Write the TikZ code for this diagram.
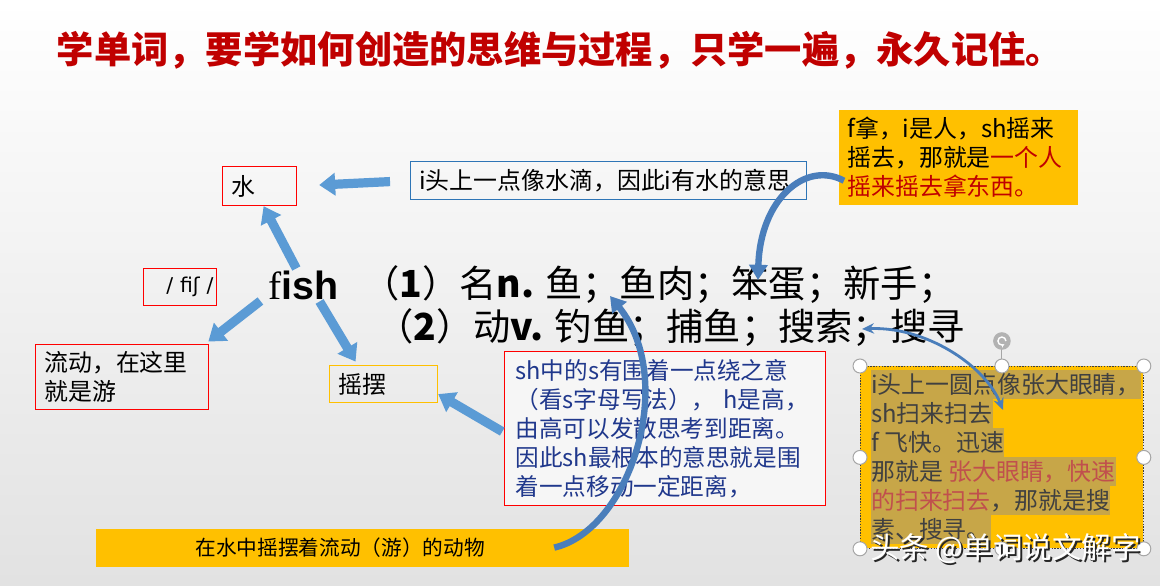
\documentclass[tikz,border=0pt]{standalone}
\usepackage{fontspec}
\setmainfont{Noto Sans CJK SC}
\newfontfamily\serifword{Liberation Serif}
\newfontfamily\sansword{Liberation Sans}
\newfontfamily\ipaface{DejaVu Sans}
\usepackage{xcolor}
\usetikzlibrary{arrows.meta}
\usetikzlibrary{positioning}

\definecolor{titlered}{RGB}{192,0,0}
\definecolor{boxred}{RGB}{255,0,0}
\definecolor{boxblue}{RGB}{46,117,182}
\definecolor{gold}{RGB}{255,192,0}
\definecolor{arrowblue}{RGB}{91,155,213}
\definecolor{curveblue}{RGB}{74,126,187}
\definecolor{inkblue}{RGB}{32,56,140}
\definecolor{hlbrown}{RGB}{199,166,72}
\definecolor{darkgray}{RGB}{64,64,64}
\definecolor{softred}{RGB}{192,80,77}
\definecolor{bgbottom}{RGB}{226,226,226}

\newcommand{\headfont}{\fontsize{26.5}{32}\selectfont\bfseries}
\newcommand{\notefont}{\fontsize{17}{20.6}\selectfont}
\newcommand{\shfont}{\fontsize{16.8}{20.6}\selectfont}
\newcommand{\sensefont}{\fontsize{26.5}{32}\selectfont}
\newcommand{\animalfont}{\fontsize{14.7}{18}\selectfont}
\newcommand{\markfont}{\fontsize{21}{24}\selectfont}

\begin{document}
\begin{tikzpicture}[x=0.25mm,y=-0.25mm,
  tagbox/.style={anchor=north west,inner xsep=2.2mm,inner ysep=0pt,align=left,line width=0.3mm},
  blockarrow/.style={arrowblue,line width=2.3mm,-{Triangle[width=5.5mm,length=4mm]}},
  curvearrow/.style={curveblue,line width=1.6mm,-{Triangle[width=4.5mm,length=3.8mm]}},
  thinarrow/.style={curveblue,line width=0.7mm,{Stealth[width=2.6mm,length=3mm]}-{Stealth[width=2.6mm,length=3mm]}},
  handle/.style={fill=white,draw=gray!70,line width=0.25mm},
  hlline/.style={anchor=north west,fill=hlbrown,inner sep=0pt,minimum height=7.1mm,text=darkgray,font=\notefont}]
  \useasboundingbox (0,0) rectangle (1160,585);
  \fill[top color=white,bottom color=bgbottom] (0,0) rectangle (1160,585);

  % title
  \node[anchor=west,text=titlered,font=\headfont] (title) at (52,50) {学单词，要学如何创造的思维与过程，只学一遍，永久记住。};

  % boxes round the word
  \node[tagbox,draw=boxred,text width=14.1mm,minimum height=9.75mm,font=\notefont] (water) at (222,166) {水};
  \node[tagbox,draw=boxblue,text width=94.6mm,minimum height=9.5mm,font=\notefont] (drop) at (410,161) {i头上一点像水滴，因此i有水的意思};
  \node[tagbox,fill=gold,text width=55.35mm,minimum height=23.75mm,font=\notefont] (grab) at (838,109)
    {f拿，i是人，sh摇来\\摇去，那就是\textcolor{titlered}{一个人}\\\textcolor{titlered}{摇来摇去拿东西。}};
  \node[tagbox,draw=boxred,inner xsep=0.8mm,text width=16.65mm,minimum height=9.25mm,align=right,font=\ipaface\fontsize{14.5}{16}\selectfont] (ipa) at (143,268) {/ fiʃ /};
  \node[tagbox,draw=boxred,text width=38.85mm,minimum height=16.25mm,font=\notefont] (flow) at (35,344) {流动，在这里\\就是游};
  \node[tagbox,draw=gold,text width=22.6mm,minimum height=9.25mm,font=\notefont] (sway) at (329,365) {摇摆};
  \node[tagbox,draw=boxred,fill=white!70!bgbottom,inner xsep=2.75mm,text width=74.75mm,minimum height=38.5mm,text=inkblue,font=\shfont] (shbox) at (504,351)
    {sh中的s有围着一点绕之意\\（看s字母写法）， h是高，\\由高可以发散思考到距离。\\因此sh最根本的意思就是围\\着一点移动一定距离，};
  \node[tagbox,fill=gold,inner xsep=0pt,text width=133.25mm,minimum height=9.5mm,font=\animalfont] (animal) at (95,528)
    {\hspace*{25mm}在水中摇摆着流动（游）的动物};

  % the word and its senses
  \node[anchor=west,inner sep=0pt] (fish) at (268,285) {\fontsize{28}{34}\selectfont{\serifword f}{\sansword\bfseries ish}};
  \node[anchor=west,inner sep=0pt,font=\sensefont] (sense1) at (362,285) {（\textbf{1}）名\textbf{n.} 鱼；鱼肉；笨蛋；新手；};
  \node[anchor=west,inner sep=0pt,font=\sensefont] (sense2) at (376,328) {（\textbf{2}）动\textbf{v.} 钓鱼；捕鱼；搜索；搜寻};
  \coordinate (dunce) at (758,280);
  \coordinate (yu) at (610,296);
  \coordinate (seek) at (862,329);

  % right box, selected
  \node[anchor=north west,fill=gold,draw=darkgray,dash pattern=on 1pt off 1pt,line width=0.2mm,minimum width=70.75mm,minimum height=45.5mm,inner sep=0pt] (search) at (860,366) {};
  \node[hlline] (l1) at ([xshift=2.75mm,yshift=-1mm]search.north west) {i头上一圆点像张大眼睛，};
  \node[hlline,below=0pt of l1.south west,anchor=north west] (l2) {sh扫来扫去};
  \node[hlline,below=0pt of l2.south west,anchor=north west] (l3) {f 飞快。迅速};
  \node[hlline,below=0pt of l3.south west,anchor=north west] (l4) {那就是 \textcolor{softred}{张大眼睛，快速}};
  \node[hlline,below=0pt of l4.south west,anchor=north west] (l5) {\textcolor{softred}{的扫来扫去}，那就是搜};
  \node[hlline,below=0pt of l5.south west,anchor=north west] (l6) {素、搜寻。};
  \coordinate (eyes) at (1003,410);

  % straight arrows
  \draw[blockarrow,shorten <=5mm,shorten >=5.5mm] (drop.west) -- (water.east);
  \draw[blockarrow,shorten <=0.5mm] ([xshift=-1.5mm]fish.north) -- ([xshift=1mm]water.south);
  \draw[blockarrow,shorten <=0.5mm,shorten >=1mm] ([xshift=-1.5mm]fish.south west) -- ([xshift=-1mm]flow.north east);
  \draw[blockarrow,shorten <=0.5mm,shorten >=1mm] ([xshift=-5mm]fish.south east) -- ([xshift=-6.5mm]sway.north);
  \draw[blockarrow,shorten <=0.5mm] ([yshift=-1mm]shbox.west) -- ([yshift=-2.5mm]sway.east);

  % curved arrows
  \draw[curvearrow] ([xshift=1.5mm,yshift=-5.9mm]grab.west) .. controls (805,160) and (760,200) .. (dunce);
  \draw[curvearrow] ([xshift=-18.75mm]animal.east) .. controls (630,530) and (678,380) .. (yu);
  \draw[thinarrow] (seek) .. controls (925,326) and (985,365) .. (eyes);

  % handles
  \foreach \a in {north west,north,north east,west,east,south west,south,south east}
    \draw[handle] (search.\a) circle[radius=1.75mm];
  \coordinate (rot) at ([yshift=6.25mm]search.north);
  \draw[gray!70,line width=0.25mm] (rot) -- ([yshift=1.75mm]search.north);
  \fill[gray!60] (rot) circle[radius=2.2mm];
  \draw[white,line width=0.35mm,-{Stealth[length=0.8mm,width=1mm]}] ([xshift=1mm]rot) arc[start angle=0,end angle=300,radius=1mm];

  % watermark, with its shadow set in the same node
  \node[anchor=west,inner sep=0pt,font=\markfont] (watermark) at (870,550)
    {\rlap{\kern0.5mm\raisebox{-0.5mm}{\color{black!85}头条 @单词说文解字}}\color{white}头条 @单词说文解字};
\end{tikzpicture}
\end{document}
